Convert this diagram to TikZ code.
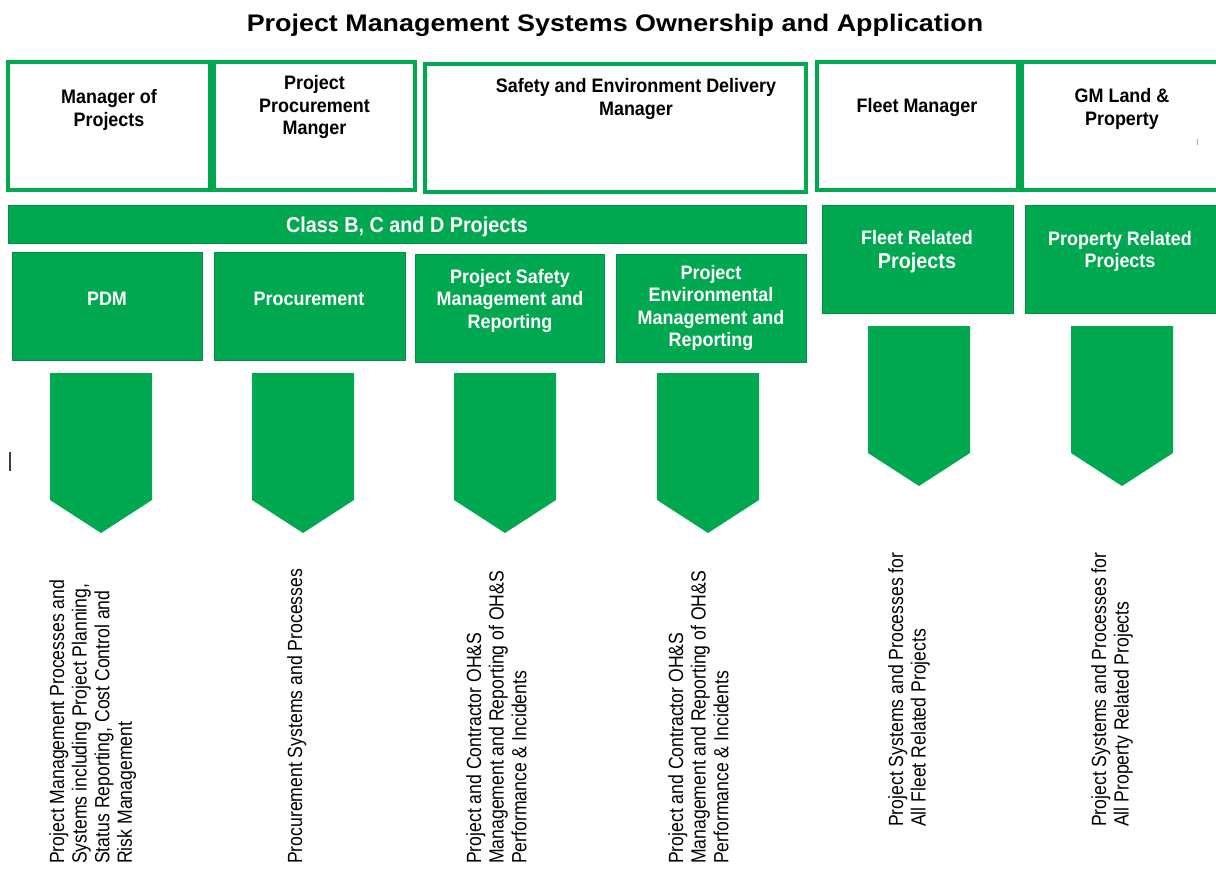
\documentclass[tikz,border=0pt]{standalone}
\usepackage{fontspec}
\setmainfont{Liberation Sans}
\newfontfamily\headfont[FakeStretch=1.12]{Liberation Sans}
\newfontfamily\boxfont[FakeStretch=0.92]{Liberation Sans}
\newfontfamily\notefont[FakeStretch=0.86]{Liberation Sans}
\definecolor{pgreen}{HTML}{00A94F}
\begin{document}
\begin{tikzpicture}[x=1pt,y=-1pt,
  owner/.style={draw=pgreen, line width=3.5pt, fill=white, inner sep=0, minimum height=128},
  ownertext/.style={font=\boxfont\bfseries\fontsize{19.5}{22.5}\selectfont, align=center, text=black, inner sep=0},
  unit/.style={fill=pgreen, draw=pgreen!85!black, line width=0.5pt, inner sep=0, minimum height=108},
  unittext/.style={font=\boxfont\bfseries\fontsize{19.5}{22.5}\selectfont, align=center, text=white, inner sep=0},
  bigtext/.style={font=\boxfont\bfseries\fontsize{21.5}{24}\selectfont},
  note/.style={rotate=90, anchor=north west, align=left, inner sep=0,
    font=\notefont\fontsize{20.5}{22.6}\selectfont, text=black},
  pennant/.pic={\fill[pgreen] (-51,0) -- (51,0) -- (51,127) -- (0,160) -- (-51,127) -- cycle;}
]
\useasboundingbox (0,0) rectangle (1216,870);

% heading
\node[font=\headfont\bfseries\fontsize{24}{28}\selectfont, anchor=base] (title) at (615,31)
  {Project Management Systems Ownership and Application};

% owners
\node[owner, minimum width=202] (mop) at (109,126) {};
\node[owner, minimum width=201] (ppm) at (314.5,126) {};
\node[owner, minimum width=381] (sed) at (615.5,128) {};
\node[owner, minimum width=201] (flm) at (917.5,126) {};
\node[owner, minimum width=204] (gml) at (1124,126) {};
\node[ownertext] (mopT) at (109,110) {Manager of\\Projects};
\node[ownertext] (ppmT) at (314.5,107) {Project\\Procurement\\Manger};
\node[ownertext] (sedT) at (636,99) {Safety and Environment Delivery\\Manager};
\node[ownertext] (flmT) at (917,108) {Fleet Manager};
\node[ownertext] (gmlT) at (1122,109) {GM Land \&\\Property};

% project classes
\node[unit, minimum width=798, minimum height=38] (cls) at (407,224) {};
\node[unittext, bigtext] (clsT) at (407,227) {Class B, C and D Projects};
\node[unit, minimum width=191] (flr) at (917.5,259) {};
\node[unittext] (flrA) at (917,237.5) {Fleet Related};
\node[unittext, bigtext] (flrB) at (917,262.5) {Projects};
\node[unit, minimum width=200] (prr) at (1125,259) {};
\node[unittext] (prrT) at (1120,251.5) {Property Related\\Projects};

% functions
\node[unit, minimum width=190] (pdm) at (107,306) {};
\node[unit, minimum width=191] (proc) at (309.5,306) {};
\node[unit, minimum width=189] (safe) at (509.5,308) {};
\node[unit, minimum width=190] (env) at (711,308) {};
\node[unittext] (pdmT) at (107,298.5) {PDM};
\node[unittext] (procT) at (309,298.5) {Procurement};
\node[unittext] (safeT) at (510,300.5) {Project Safety\\Management and\\Reporting};
\node[unittext] (envT) at (711,308) {Project\\Environmental\\Management and\\Reporting};

% pennant arrows
\pic at (101,373) {pennant};
\pic at (303,373) {pennant};
\pic at (505,373) {pennant};
\pic at (708,373) {pennant};
\pic at (919,326) {pennant};
\pic at (1122,326) {pennant};

% system descriptions
\node[note] (n1) at (49,864) {Project Management Processes and\\Systems including Project Planning,\\Status Reporting, Cost Control and\\Risk Management};
\node[note] (n2) at (287,864) {Procurement Systems and Processes};
\node[note] (n3) at (466,864) {Project and Contractor OH\&S\\Management and Reporting of OH\&S\\Performance \& Incidents};
\node[note] (n4) at (668,864) {Project and Contractor OH\&S\\Management and Reporting of OH\&S\\Performance \& Incidents};
\node[note] (n5) at (888,827) {Project Systems and Processes for\\All Fleet Related Projects};
\node[note] (n6) at (1091,827) {Project Systems and Processes for\\All Property Related Projects};

% stray marks
\draw[line width=1.5pt, black!75] (10,452) -- (10,471);
\draw[line width=0.8pt, black!35] (1197,139) -- (1197,145);
\end{tikzpicture}
\end{document}
